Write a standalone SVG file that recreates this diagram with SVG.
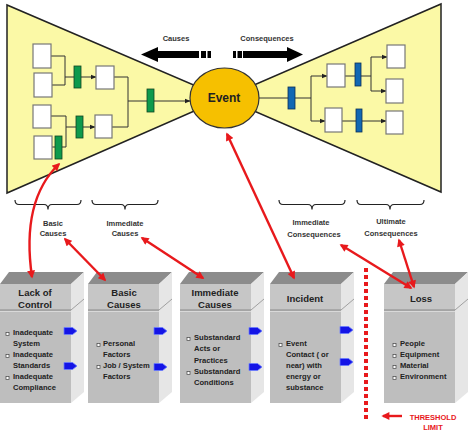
<svg xmlns="http://www.w3.org/2000/svg" xmlns:xlink="http://www.w3.org/1999/xlink" width="474" height="434" viewBox="0 0 474 434">
<defs>
<style>
.tri{fill:#FBF9A6;stroke:#222;stroke-width:1.5}
.bx{fill:#fff;stroke:#777;stroke-width:1.2}
.ln{fill:none;stroke:#333;stroke-width:1}
.gr{fill:#0E9A4C;stroke:#114422;stroke-width:0.8}
.bl{fill:#1268B3;stroke:#0A2F55;stroke-width:0.8}
.lab{font-family:"Liberation Sans",Arial,sans-serif;font-weight:bold;font-size:7.5px;fill:#333;text-anchor:middle}
.hd{font-family:"Liberation Sans",Arial,sans-serif;font-weight:bold;font-size:9.5px;fill:#222;text-anchor:middle}
.bt{font-family:"Liberation Sans",Arial,sans-serif;font-weight:bold;font-size:7.6px;fill:#222}
.red{fill:none;stroke:#E8191C;stroke-width:2.4}
.brace{fill:none;stroke:#222;stroke-width:1.2}
.bul{fill:#fff;stroke:#444;stroke-width:0.7}
.barr{fill:#1414E6;stroke:#6A7CFF;stroke-width:0.8}
</style>
<marker id="ah" viewBox="0 0 10 10" refX="9" refY="5" markerWidth="6" markerHeight="6" orient="auto" markerUnits="userSpaceOnUse">
<path d="M0,1 L10,5 L0,9 z" fill="#222"/>
</marker>
<marker id="rh" viewBox="0 0 10 10" refX="8" refY="5" markerWidth="9" markerHeight="8" orient="auto-start-reverse" markerUnits="userSpaceOnUse">
<path d="M0,0 L10,5 L0,10 z" fill="#E8191C"/>
</marker>
<g id="block">
<polygon points="0,12 9,0 84,0 71,12" fill="#8C8C8C"/>
<rect x="0" y="12" width="71" height="26" fill="#C6C6C6"/>
<rect x="0" y="38" width="71" height="93" fill="#BEBEBE"/>
<line x1="0" y1="38" x2="71" y2="38" stroke="#8A8A8A" stroke-width="1.2"/>
<line x1="0" y1="39.5" x2="71" y2="39.5" stroke="#E0E0E0" stroke-width="0.8"/>
<polygon points="71,12 84,0 84,120 71,131" fill="#E6E6E6"/>
<line x1="71" y1="38" x2="84" y2="27" stroke="#A0A0A0" stroke-width="1"/>
</g>
<path id="barrow" d="M0,-3.5 H8.5 L13,0 L8.5,3.5 H0 Z"/>
<rect id="bullet" x="0" y="-2.5" width="3" height="3"/>
</defs>

<rect x="0" y="0" width="474" height="434" fill="#fff"/>

<g id="left-triangle">
<polygon class="tri" points="7,5 7,193 224,98"/>
</g>
<g id="right-triangle">
<polygon class="tri" points="441,4 441,192 224,98"/>
</g>

<g id="connectors">
<path class="ln" d="M51,56 H65 V85 H52"/>
<path class="ln" d="M65,77 H96" marker-end="url(#ah)"/>
<path class="ln" d="M51,116 H66 V147 H52"/>
<path class="ln" d="M66,127 H95" marker-end="url(#ah)"/>
<path class="ln" d="M114,77 H128 V127 H112"/>
<path class="ln" d="M128,101 H190" marker-end="url(#ah)"/>
<path class="ln" d="M259,98 H311 M311,76 V121"/>
<path class="ln" d="M311,76 H327" marker-end="url(#ah)"/>
<path class="ln" d="M311,121 H325" marker-end="url(#ah)"/>
<path class="ln" d="M345,76 H371 M371,57 V91"/>
<path class="ln" d="M371,57 H387" marker-end="url(#ah)"/>
<path class="ln" d="M371,91 H386" marker-end="url(#ah)"/>
<path class="ln" d="M342,121 H386" marker-end="url(#ah)"/>
</g>

<g id="cause-boxes">
<rect class="bx" x="33" y="44" width="18" height="24"/>
<rect class="bx" x="34" y="73" width="18" height="24"/>
<rect class="bx" x="33" y="105" width="18" height="23"/>
<rect class="bx" x="34" y="136" width="18" height="23"/>
<rect class="bx" x="96" y="66" width="18" height="23"/>
<rect class="bx" x="95" y="115" width="17" height="23"/>
</g>
<g id="cause-barriers">
<rect class="gr" x="74" y="66" width="7" height="22"/>
<rect class="gr" x="55" y="136" width="7" height="23"/>
<rect class="gr" x="76" y="116" width="7" height="22"/>
<rect class="gr" x="147" y="89" width="7" height="23"/>
</g>
<g id="consequence-boxes">
<rect class="bx" x="327" y="64" width="18" height="23"/>
<rect class="bx" x="325" y="108" width="17" height="24"/>
<rect class="bx" x="387" y="45" width="18" height="23"/>
<rect class="bx" x="386" y="79" width="17" height="24"/>
<rect class="bx" x="386" y="111" width="17" height="23"/>
</g>
<g id="consequence-barriers">
<rect class="bl" x="288" y="87" width="7" height="22"/>
<rect class="bl" x="355" y="63" width="6" height="23"/>
<rect class="bl" x="356" y="109" width="6" height="23"/>
</g>

<g id="event">
<ellipse cx="224.5" cy="98" rx="34.5" ry="30" fill="#F6C000" stroke="#333" stroke-width="1.2"/>
<text x="224" y="102" font-family="'Liberation Sans',Arial,sans-serif" font-weight="bold" font-size="12" fill="#222" text-anchor="middle">Event</text>
</g>

<g id="causes-arrow">
<polygon points="141,54.5 158,47 158,62" fill="#000"/>
<rect x="157" y="51" width="42" height="7" fill="#000"/>
<rect x="201" y="51" width="5" height="7" fill="#000"/>
<rect x="207.5" y="51" width="3.5" height="7" fill="#000"/>
<text class="lab" x="176" y="41" font-size="8">Causes</text>
</g>
<g id="consequences-arrow">
<rect x="233" y="51" width="3" height="7" fill="#000"/>
<rect x="237.5" y="51" width="4.5" height="7" fill="#000"/>
<rect x="243" y="51" width="45" height="7" fill="#000"/>
<polygon points="287,47 303,54.5 287,62" fill="#000"/>
<text class="lab" x="267" y="41" font-size="8">Consequences</text>
</g>

<g id="brace-basic">
<path class="brace" d="M15,200 Q15,204.5 19,204.5 H44 Q48,204.5 48,209.5 Q48,204.5 52,204.5 H77 Q81,204.5 81,200"/>
<text class="lab" x="53" y="226">Basic</text>
<text class="lab" x="53" y="236">Causes</text>
</g>
<g id="brace-immediate">
<path class="brace" d="M92,200 Q92,204.5 96,204.5 H121 Q125,204.5 125,209.5 Q125,204.5 129,204.5 H154 Q158,204.5 158,200"/>
<text class="lab" x="125" y="226">Immediate</text>
<text class="lab" x="125" y="236">Causes</text>
</g>
<g id="brace-immediate-consequences">
<path class="brace" d="M279,200 Q279,204.5 283,204.5 H308 Q312,204.5 312,209.5 Q312,204.5 316,204.5 H341 Q345,204.5 345,200"/>
<text class="lab" x="311" y="225">Immediate</text>
<text class="lab" x="314" y="237">Consequences</text>
</g>
<g id="brace-ultimate-consequences">
<path class="brace" d="M357,200 Q357,204.5 361,204.5 H386 Q390,204.5 390,209.5 Q390,204.5 394,204.5 H420 Q424,204.5 424,200"/>
<text class="lab" x="391" y="224">Ultimate</text>
<text class="lab" x="391" y="236">Consequences</text>
</g>

<g id="box-lack-of-control">
<use xlink:href="#block" x="0" y="272"/>
<text class="hd" x="35" y="295.5">Lack of</text>
<text class="hd" x="35" y="307.5">Control</text>
<g class="bul"><use xlink:href="#bullet" x="6" y="335"/><use xlink:href="#bullet" x="6" y="357"/><use xlink:href="#bullet" x="6" y="379"/></g>
<text class="bt" x="13" y="335">Inadequate</text>
<text class="bt" x="13" y="346">System</text>
<text class="bt" x="13" y="357">Inadequate</text>
<text class="bt" x="13" y="368">Standards</text>
<text class="bt" x="13" y="379">Inadequate</text>
<text class="bt" x="13" y="390">Compliance</text>
<g class="barr"><use xlink:href="#barrow" x="64" y="331"/><use xlink:href="#barrow" x="64" y="366"/></g>
</g>

<g id="box-basic-causes">
<use xlink:href="#block" x="88" y="272"/>
<text class="hd" x="124" y="295.5">Basic</text>
<text class="hd" x="124" y="307.5">Causes</text>
<g class="bul"><use xlink:href="#bullet" x="97" y="346"/><use xlink:href="#bullet" x="97" y="368"/></g>
<text class="bt" x="103" y="346">Personal</text>
<text class="bt" x="103" y="357">Factors</text>
<text class="bt" x="103" y="368">Job / System</text>
<text class="bt" x="103" y="379">Factors</text>
<g class="barr"><use xlink:href="#barrow" x="154" y="331"/><use xlink:href="#barrow" x="154" y="367"/></g>
</g>

<g id="box-immediate-causes">
<use xlink:href="#block" x="180" y="272"/>
<text class="hd" x="215" y="295.5">Immediate</text>
<text class="hd" x="215" y="307.5">Causes</text>
<g class="bul"><use xlink:href="#bullet" x="187" y="340"/><use xlink:href="#bullet" x="187" y="374"/></g>
<text class="bt" x="194" y="340">Substandard</text>
<text class="bt" x="194" y="351">Acts or</text>
<text class="bt" x="194" y="363">Practices</text>
<text class="bt" x="194" y="374">Substandard</text>
<text class="bt" x="194" y="385">Conditions</text>
<g class="barr"><use xlink:href="#barrow" x="249" y="331"/><use xlink:href="#barrow" x="249" y="367"/></g>
</g>

<g id="box-incident">
<use xlink:href="#block" x="270" y="272"/>
<text class="hd" x="305" y="301.5">Incident</text>
<g class="bul"><use xlink:href="#bullet" x="279" y="346"/></g>
<text class="bt" x="286" y="346">Event</text>
<text class="bt" x="286" y="357">Contact ( or</text>
<text class="bt" x="286" y="368">near) with</text>
<text class="bt" x="286" y="379">energy or</text>
<text class="bt" x="286" y="390">substance</text>
<g class="barr"><use xlink:href="#barrow" x="340" y="330"/><use xlink:href="#barrow" x="340" y="362"/></g>
</g>

<g id="box-loss">
<use xlink:href="#block" x="384" y="272"/>
<text class="hd" x="421" y="301.5">Loss</text>
<g class="bul"><use xlink:href="#bullet" x="393" y="346"/><use xlink:href="#bullet" x="393" y="357"/><use xlink:href="#bullet" x="393" y="368"/><use xlink:href="#bullet" x="393" y="379"/></g>
<text class="bt" x="400" y="346">People</text>
<text class="bt" x="400" y="357">Equipment</text>
<text class="bt" x="400" y="368">Material</text>
<text class="bt" x="400" y="379">Environment</text>
</g>

<g id="threshold">
<line x1="366" y1="268" x2="366" y2="420" stroke="#E8191C" stroke-width="4" stroke-dasharray="4 3"/>
<line x1="402" y1="416" x2="383" y2="416" class="red" marker-end="url(#rh)"/>
<text x="433" y="420" font-family="'Liberation Sans',Arial,sans-serif" font-weight="bold" font-size="7.5" fill="#E8191C" text-anchor="middle">THRESHOLD</text>
<text x="433" y="430" font-family="'Liberation Sans',Arial,sans-serif" font-weight="bold" font-size="7.5" fill="#E8191C" text-anchor="middle">LIMIT</text>
</g>

<g id="red-links">
<path class="red" d="M59,164 C36,186 24,222 32,277" marker-start="url(#rh)" marker-end="url(#rh)"/>
<path class="red" d="M65,239 L105,280" marker-start="url(#rh)" marker-end="url(#rh)"/>
<path class="red" d="M142,238 L203,278" marker-start="url(#rh)" marker-end="url(#rh)"/>
<path class="red" d="M227,134 L294,278" marker-start="url(#rh)" marker-end="url(#rh)"/>
<path class="red" d="M341,245 L411,288" marker-start="url(#rh)" marker-end="url(#rh)"/>
<path class="red" d="M399,240 L414,287" marker-start="url(#rh)" marker-end="url(#rh)"/>
</g>
</svg>
